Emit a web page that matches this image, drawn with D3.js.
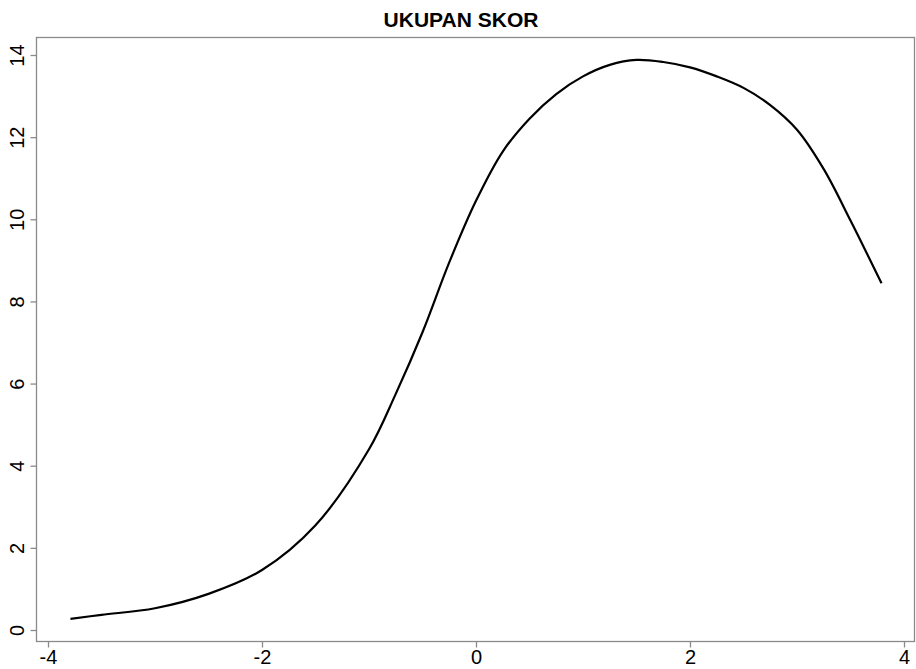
<!DOCTYPE html>
<html>
<head>
<meta charset="utf-8">
<script src="https://cdn.jsdelivr.net/npm/d3@7"></script>
<style>
  body { margin: 0; background: #fff; }
  text { font-family: "Liberation Sans", Arial, sans-serif; }
</style>
</head>
<body>
<div id="chart"></div>
<script>
// ---- DATA ---------------------------------------------------------
var theta = [-3.79, -3.5, -3.0, -2.5, -2.0, -1.5, -1.0, -0.75, -0.5, -0.25, 0.0, 0.25,
             0.5, 0.75, 1.0, 1.25, 1.5, 1.75, 2.0, 2.25, 2.5, 2.75, 3.0, 3.25, 3.5, 3.79];
var skor = [0.27, 0.37, 0.53, 0.88, 1.46, 2.55, 4.4, 5.75, 7.25, 8.95, 10.45, 11.65,
            12.45, 13.05, 13.48, 13.76, 13.88, 13.83, 13.7, 13.48, 13.2, 12.78, 12.18, 11.22, 9.97, 8.44];
var xTicks = [-4, -2, 0, 2, 4];
var yTicks = [0, 2, 4, 6, 8, 10, 12, 14];
var title = "UKUPAN SKOR";

// ---- VARIABLES ----------------------------------------------------
var w = 916;
var h = 669;
var box = { left: 36, right: 914, top: 37, bottom: 641 };

// ---- SCALES -------------------------------------------------------
var xScale = d3.scaleLinear().domain([-4, 4]).range([48, 904]);
var yScale = d3.scaleLinear().domain([0, 14]).range([630, 55]);

var svg = d3.select("#chart")
  .append("svg")
  .attr("width", w)
  .attr("height", h);

// frame
svg.append("rect")
  .attr("x", box.left + 0.5)
  .attr("y", box.top + 0.5)
  .attr("width", box.right - box.left)
  .attr("height", box.bottom - box.top)
  .attr("fill", "none")
  .attr("stroke", "#8a8a8a")
  .attr("stroke-width", 1.3);

// x axis
var xAxis = d3.axisBottom(xScale)
  .tickValues(xTicks)
  .tickSize(6)
  .tickPadding(2)
  .tickFormat(d3.format("d"));

var gx = svg.append("g")
  .attr("transform", "translate(0," + (box.bottom + 0.5) + ")")
  .call(xAxis);
gx.select(".domain").remove();
gx.selectAll("line").attr("stroke", "#8a8a8a").attr("stroke-width", 1.3);
gx.selectAll("text")
  .attr("fill", "#000")
  .style("font-size", "20px")
  .text(function(d) { return d < 0 ? "-" + Math.abs(d) : d; });

// y axis, labels turned like R
var yAxis = d3.axisLeft(yScale)
  .tickValues(yTicks)
  .tickSize(6)
  .tickFormat(d3.format("d"));

var gy = svg.append("g")
  .attr("transform", "translate(" + (box.left + 0.5) + ",0)")
  .call(yAxis);
gy.select(".domain").remove();
gy.selectAll("line").attr("stroke", "#8a8a8a").attr("stroke-width", 1.3);
gy.selectAll("text")
  .attr("fill", "#000")
  .style("font-size", "20px")
  .attr("x", 0)
  .attr("dy", 0)
  .attr("text-anchor", "middle")
  .attr("transform", "translate(-13,0) rotate(-90)");

// curve
var line = d3.line()
  .x(function(d, i) { return xScale(theta[i]); })
  .y(function(d) { return yScale(d); })
  .curve(d3.curveCatmullRom);

svg.append("path")
  .datum(skor)
  .attr("d", line)
  .attr("fill", "none")
  .attr("stroke", "#000")
  .attr("stroke-width", 2.2);

// title
svg.append("text")
  .attr("x", 461)
  .attr("y", 27)
  .attr("text-anchor", "middle")
  .style("font-size", "21px")
  .style("font-weight", "bold")
  .text(title);
</script>
</body>
</html>
